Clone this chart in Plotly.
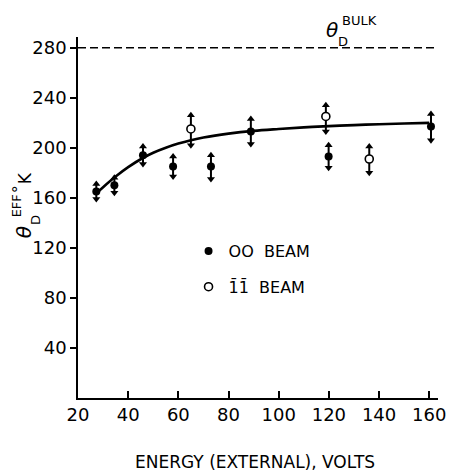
import plotly.graph_objects as go

# 00 beam (filled)
x00 = [27.3, 34.5, 45.9, 57.9, 73.0, 88.9, 119.9, 160.7]
y00 = [165, 170, 194, 185, 185, 213, 193, 217]
up00 = [6, 6, 7, 8, 9, 10, 9, 10]
dn00 = [6, 6, 7, 8, 10, 10, 9, 11]

# 1-bar 1-bar beam (open)
x11 = [65.0, 118.8, 136.1]
y11 = [215, 225, 191]
up11 = [11, 9, 10]
dn11 = [13, 12, 11]

# fitted curve
xc = [27, 30, 35, 40, 46, 50, 55, 60, 65, 70, 80, 90, 100, 110, 120, 130, 140, 150, 160]
yc = [163, 168.5, 177, 184.5, 192, 196, 200, 203.3, 206, 208.2, 211.3, 213.5, 215, 216.3, 217.3, 218.1, 218.8, 219.4, 219.9]

bulk = 280
xticks = [20, 40, 60, 80, 100, 120, 140, 160]
yticks = [40, 80, 120, 160, 200, 240, 280]

FONT = "DejaVu Sans"
fig = go.Figure()

# dashed bulk line
fig.add_trace(go.Scatter(x=[20, 163.5], y=[bulk, bulk], mode="lines",
                         line=dict(color="black", width=1.5, dash="8px,4px"),
                         showlegend=False, hoverinfo="skip"))
# curve
fig.add_trace(go.Scatter(x=xc, y=yc, mode="lines", line=dict(color="black", width=2.6, shape="spline", smoothing=1),
                         showlegend=False, hoverinfo="skip"))

def arrows(xs, ys, ups, dns):
    sx, sy = [], []
    for x, y, u, d in zip(xs, ys, ups, dns):
        sx += [x, x, None]
        sy += [y - d, y + u, None]
    fig.add_trace(go.Scatter(x=sx, y=sy, mode="lines", line=dict(color="black", width=2),
                             showlegend=False, hoverinfo="skip"))
    fig.add_trace(go.Scatter(x=xs, y=[y + u for y, u in zip(ys, ups)], mode="markers",
                             marker=dict(symbol="triangle-up", size=7, color="black"),
                             showlegend=False, hoverinfo="skip"))
    fig.add_trace(go.Scatter(x=xs, y=[y - d for y, d in zip(ys, dns)], mode="markers",
                             marker=dict(symbol="triangle-down", size=7, color="black"),
                             showlegend=False, hoverinfo="skip"))

arrows(x00, y00, up00, dn00)
arrows(x11, y11, up11, dn11)

fig.add_trace(go.Scatter(x=x00, y=y00, mode="markers", name="OO  BEAM", legendgroup="a",
                         marker=dict(symbol="circle", size=8, color="black")))
fig.add_trace(go.Scatter(x=x11, y=y11, mode="markers", name="1\u03041\u0304  BEAM", legendgroup="b",
                         marker=dict(symbol="circle", size=8, color="white", line=dict(color="black", width=1.6))))

W, H = 455, 472
l, r, t, b = 78, 9, 37, 74
pw, ph = W - l - r, H - t - b

def px(xp):
    return (xp - l) / pw

def py(yp):
    return (H - b - yp) / ph

fig.update_layout(
    width=W, height=H, margin=dict(l=l, r=r, t=t, b=b),
    paper_bgcolor="white", plot_bgcolor="white",
    font=dict(family=FONT, size=18, color="black"),
    showlegend=True,
    legend=dict(x=px(191), y=py(234), xanchor="left", yanchor="top", bgcolor="rgba(0,0,0,0)",
                font=dict(size=16, color="black"), tracegroupgap=12, itemwidth=30),
    xaxis=dict(range=[20, 163.5], tickvals=xticks, ticktext=[str(v) for v in xticks],
               ticks="inside", ticklen=7, tickwidth=1.5, tickcolor="black",
               showline=True, linecolor="black", linewidth=1.5, showgrid=False, zeroline=False,
               tickfont=dict(size=18, color="black")),
    yaxis=dict(range=[0, 288.5], tickvals=yticks, ticktext=[str(v) for v in yticks],
               ticks="outside", ticklen=6, tickwidth=1.5, tickcolor="black",
               showline=True, linecolor="black", linewidth=1.5, showgrid=False, zeroline=False,
               tickfont=dict(size=18, color="black")),
)

def lab(text, xp, yp, size, angle=0, anchor="center"):
    return dict(text=text, xref="paper", yref="paper", x=px(xp), y=py(yp),
                xanchor=anchor, yanchor="middle", showarrow=False, textangle=angle,
                font=dict(size=size, color="black", family=FONT))

ann = [
    lab("ENERGY (EXTERNAL), VOLTS", 259, 462, 17),
    lab("<i>θ</i>", 338, 30, 20),
    lab("BULK", 346, 20, 13, anchor="left"),
    lab("D", 349, 41, 13),
    lab("<i>θ</i>", 23, 232, 20, -90),
    lab("D", 34, 220, 13, -90),
    lab("EFF", 15, 206, 13, -90),
    lab("°", 17, 189, 16, -90),
    lab("K", 24, 178, 17, -90),
]
fig.update_layout(annotations=ann)

fig.write_html("out.html")
